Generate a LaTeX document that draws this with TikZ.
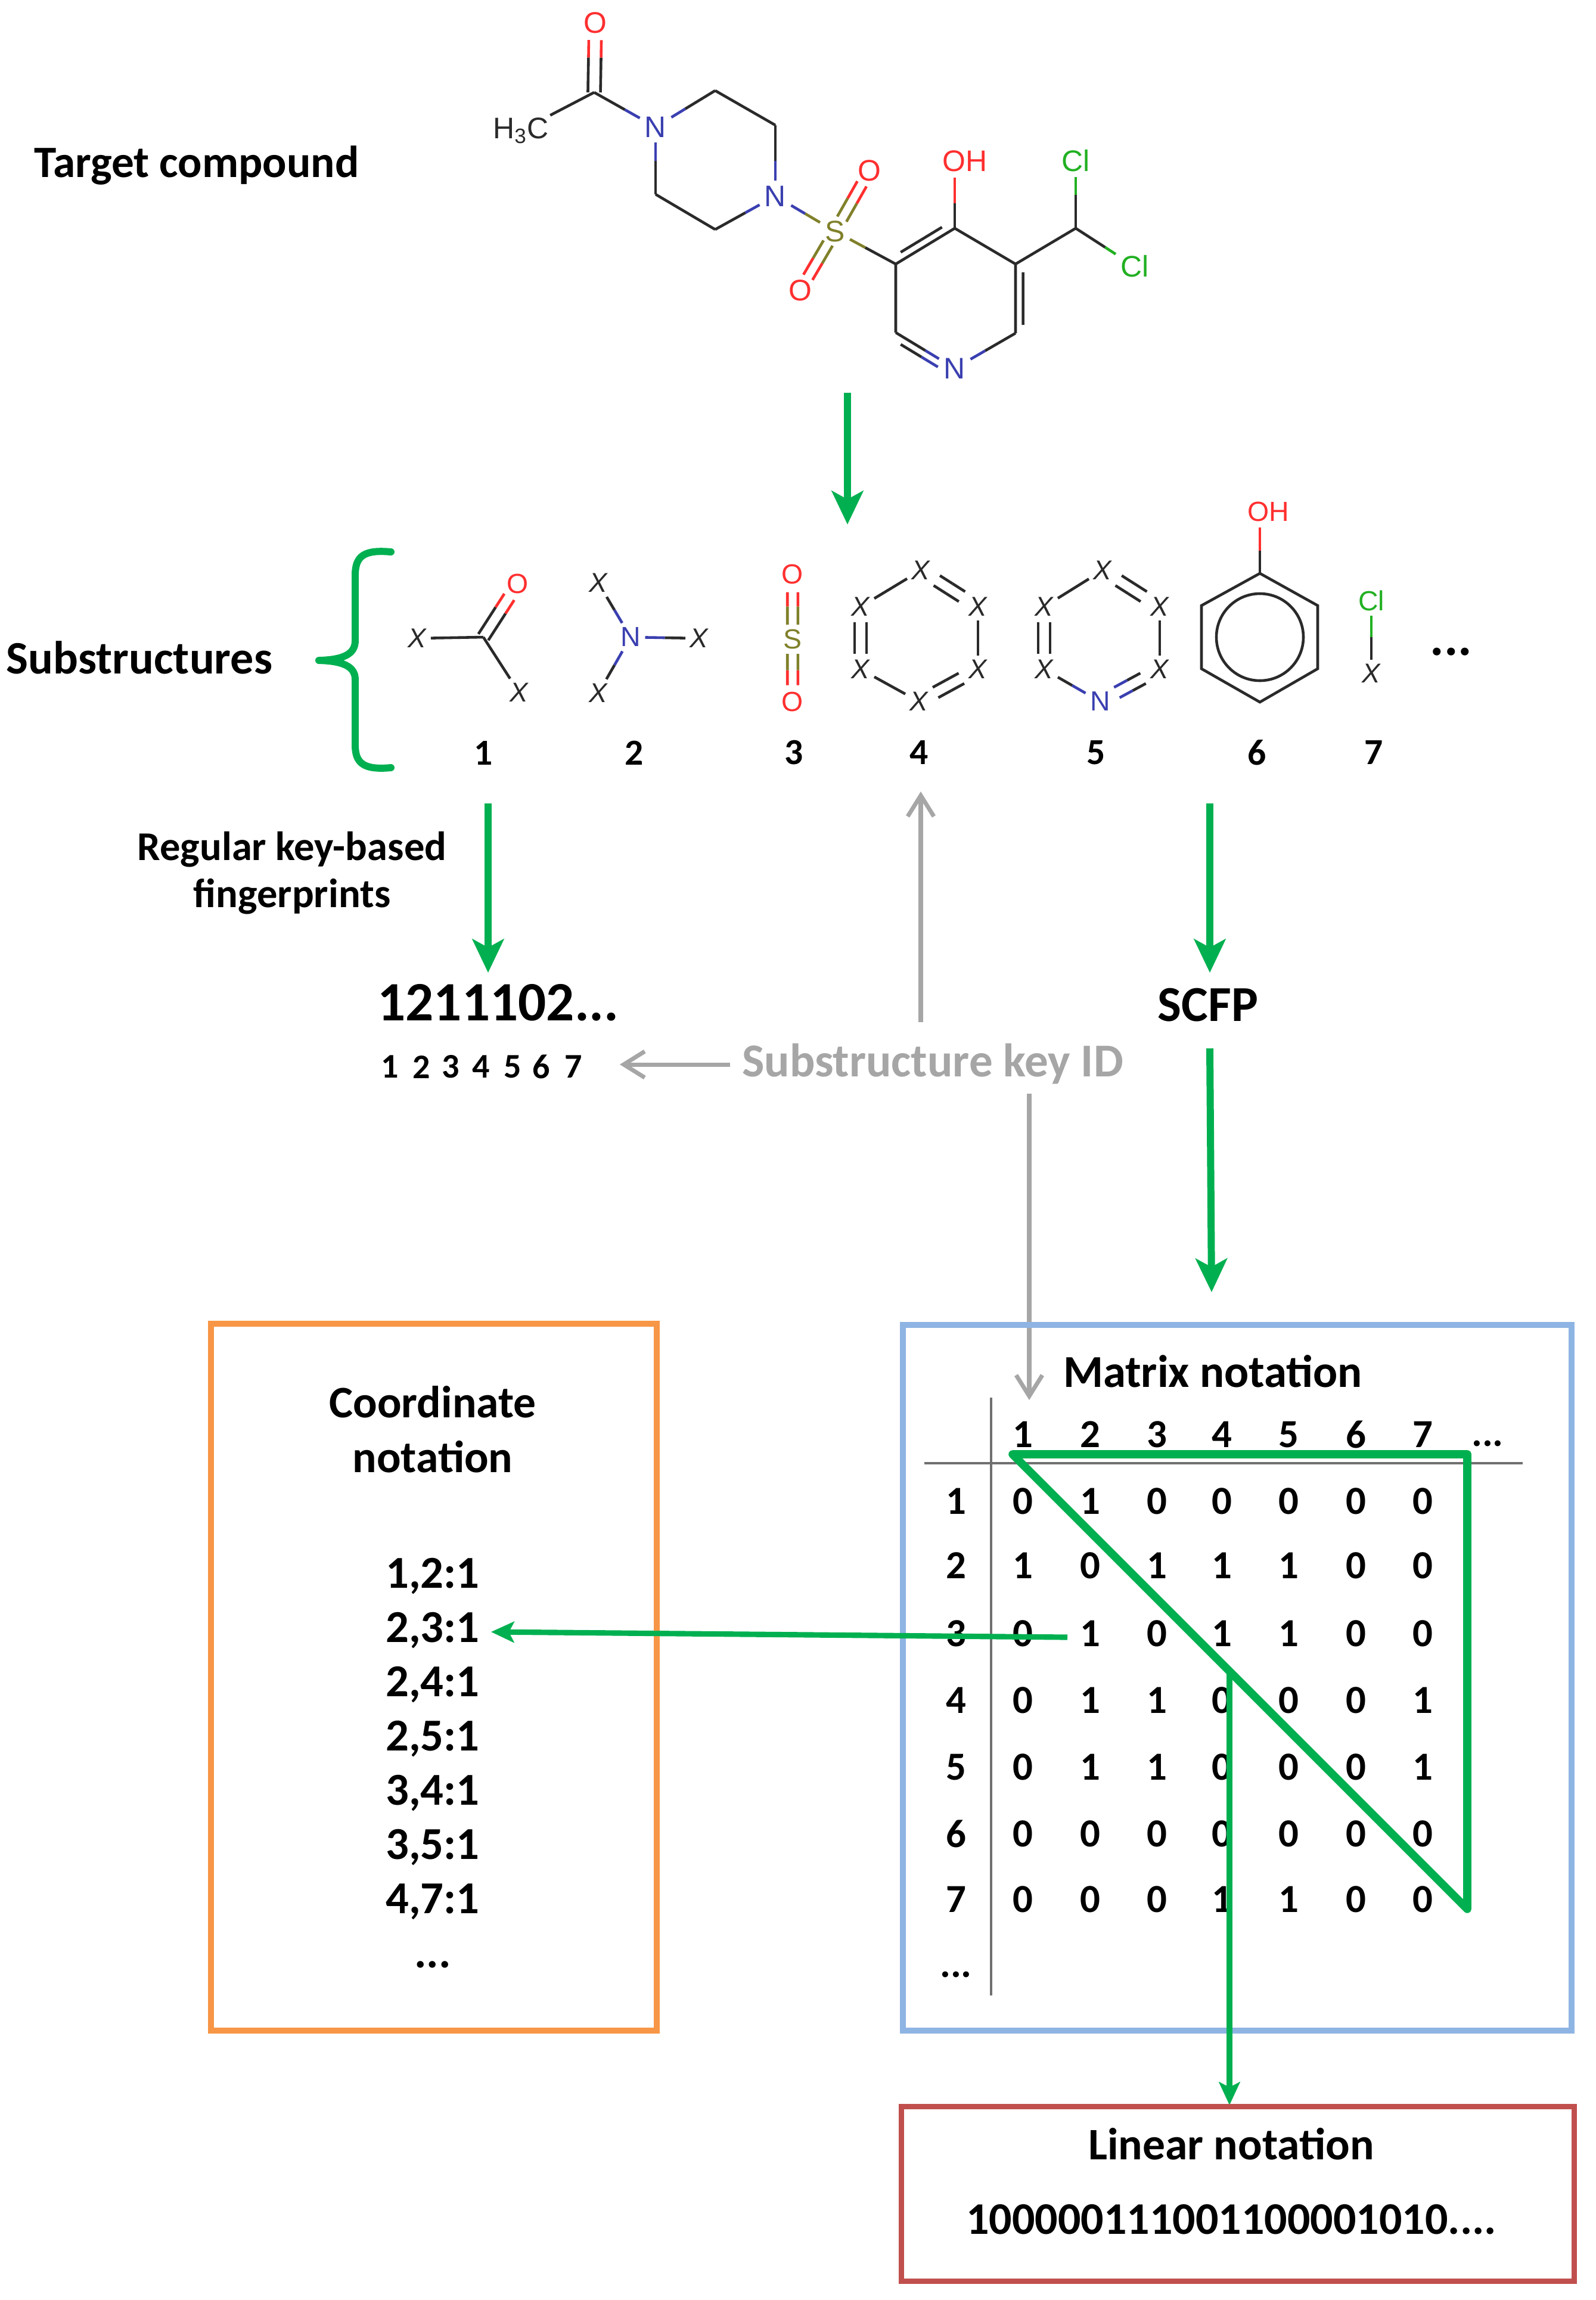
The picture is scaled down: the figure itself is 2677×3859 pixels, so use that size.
\documentclass[tikz,border=0pt]{standalone}
\usepackage{fontspec}
\setmainfont{Carlito}
\newfontfamily\chemfont{Liberation Sans}
\usetikzlibrary{calc,arrows.meta}
\definecolor{cgreen}{HTML}{00B050}
\definecolor{cgrey}{HTML}{A6A6A6}
\definecolor{corange}{HTML}{F79646}
\definecolor{cblue}{HTML}{8EB4E3}
\definecolor{cred}{HTML}{C0504D}
\definecolor{ink}{HTML}{2A2A2A}
\definecolor{atomO}{HTML}{FF2F2F}
\definecolor{atomN}{HTML}{3A3FB0}
\definecolor{atomS}{HTML}{80802A}
\definecolor{atomCl}{HTML}{22B022}
\definecolor{rule}{HTML}{707070}
\newcommand\fsz[2]{\fontsize{#1}{#2}\selectfont}
\newcommand\bondsplit[4]{%
  \draw[bondline,draw=#3] (#1) -- ($(#1)!.5!(#2)$);
  \draw[bondline,draw=#4] (#2) -- ($(#1)!.5!(#2)$);}
\newcommand\bondrun[7]{% a b colA colB f1 f2 offset
  \draw[bondline,draw=#3] ($($(#1)!#5!(#2)$)!#7!90:(#2)$) -- ($($(#1)!.5!(#2)$)!#7!90:(#2)$);
  \draw[bondline,draw=#4] ($($(#1)!.5!(#2)$)!#7!90:(#2)$) -- ($($(#1)!#6!(#2)$)!#7!90:(#2)$);}
\newcommand\mrow[9]{%
  \node[mcell] (r#1) at (1604,#2) {#1};
  \node[mcell] (c#1a) at (1716,#2) {#3};
  \node[mcell] (c#1b) at (1829,#2) {#4};
  \node[mcell] (c#1c) at (1941,#2) {#5};
  \node[mcell] (c#1d) at (2050,#2) {#6};
  \node[mcell] (c#1e) at (2162,#2) {#7};
  \node[mcell] (c#1f) at (2275,#2) {#8};
  \node[mcell] (c#1g) at (2387,#2) {#9};}
\tikzset{
  bondline/.style={line width=1.3pt,line cap=butt},
  atom/.style={font=\chemfont\fsz{14.2}{14.2},inner sep=2.2pt},
  satom/.style={font=\chemfont\fsz{13.2}{13.2},inner sep=2pt},
  xatom/.style={font=\chemfont\itshape\fsz{13}{13},text=ink,inner sep=2pt},
  label/.style={font=\bfseries\fsz{21.5}{22.5},align=center,inner sep=0pt},
  subnum/.style={font=\bfseries\fsz{17.5}{17.5},inner sep=0pt},
  smallnum/.style={font=\bfseries\fsz{16.5}{16.5},inner sep=0pt},
  mcell/.style={font=\bfseries\fsz{19}{19},inner sep=0pt},
  greenarrow/.style={draw=cgreen,line width=3.4pt,-{Stealth[length=16pt,width=15pt,inset=4pt]}},
  thinarrow/.style={draw=cgreen,line width=2.6pt,-{Stealth[length=11pt,width=10pt,inset=2.5pt]}},
  greyarrow/.style={draw=cgrey,line width=2pt,-{Straight Barb[length=10pt,width=12.5pt,line width=2pt]}},
  tablerule/.style={draw=rule,line width=1.3pt},
  panel/.style={draw=#1,line width=2.6pt,fill=none,inner sep=0pt},
}
\begin{document}
\begin{tikzpicture}[x=0.01cm,y=-0.01cm]
\useasboundingbox[fill=white] (0,0) rectangle (2677,3859);

% Target compound
\node[label,font=\bfseries\fsz{21.4}{22.5}] (ttarget) at (330,277) {Target compound};
\node[atom,text=atomO] (Oa) at (999,38) {O};
\coordinate (Ca) at (997,155);
\node[atom,text=ink,inner sep=1pt] (Me) at (874,219) {H\textsubscript{3}C};
\node[atom,text=atomN] (N1) at (1100,213) {N};
\coordinate (R1) at (1200,152);
\coordinate (R2) at (1301,210);
\node[atom,text=atomN] (N2) at (1301,329) {N};
\coordinate (R3) at (1200,385);
\coordinate (R4) at (1100,326);
\node[atom,text=atomS] (Sa) at (1401,388) {S};
\node[atom,text=atomO] (Ob) at (1459,286) {O};
\node[atom,text=atomO] (Oc) at (1343,487) {O};
\coordinate (P3) at (1503,443);
\coordinate (P4) at (1602,383);
\coordinate (P5) at (1704,443);
\coordinate (P6) at (1704,559);
\node[atom,text=atomN] (Np) at (1602,618) {N};
\coordinate (P2) at (1503,558);
\node[atom,text=atomO] (OH) at (1619,270) {OH};
\coordinate (OHb) at (1602,298);
\coordinate (CC) at (1805,383);
\node[atom,text=atomCl] (Cl1) at (1805,270) {Cl};
\node[atom,text=atomCl] (Cl2) at (1904,447) {Cl};
\bondrun{Ca}{Oa}{ink}{atomO}{0}{.75}{3pt}
\bondrun{Ca}{Oa}{ink}{atomO}{0}{.75}{-3pt}
\draw[bondline,draw=ink] (Ca) -- (Me);
\bondsplit{Ca}{N1}{ink}{atomN}
\bondsplit{N1}{R1}{atomN}{ink}
\draw[bondline,draw=ink] (R1) -- (R2);
\bondsplit{R2}{N2}{ink}{atomN}
\bondsplit{N2}{R3}{atomN}{ink}
\draw[bondline,draw=ink] (R3) -- (R4);
\bondsplit{R4}{N1}{ink}{atomN}
\bondsplit{N2}{Sa}{atomN}{atomS}
\bondsplit{Sa}{P3}{atomS}{ink}
\bondrun{Sa}{Ob}{atomS}{atomO}{.2}{.78}{2.5pt}
\bondrun{Sa}{Ob}{atomS}{atomO}{.2}{.78}{-2.5pt}
\bondrun{Sa}{Oc}{atomS}{atomO}{.2}{.78}{2.5pt}
\bondrun{Sa}{Oc}{atomS}{atomO}{.2}{.78}{-2.5pt}
\draw[bondline,draw=ink,line join=round] (P2) -- (P3) -- (P4) -- (P5) -- (P6);
\bondsplit{P6}{Np}{ink}{atomN}
\bondsplit{Np}{P2}{atomN}{ink}
\bondrun{P3}{P4}{ink}{ink}{.15}{.85}{3.6pt}
\bondrun{P5}{P6}{ink}{ink}{.12}{.88}{3.6pt}
\bondrun{Np}{P2}{atomN}{ink}{.22}{.85}{3.6pt}
\bondsplit{P4}{OHb}{ink}{atomO}
\draw[bondline,draw=ink] (P5) -- (CC);
\bondsplit{CC}{Cl1}{ink}{atomCl}
\bondsplit{CC}{Cl2}{ink}{atomCl}

% Arrow to substructures
\coordinate (aStart) at (1422,659);
\coordinate (aEnd) at (1422,880);
\draw[greenarrow] (aStart) -- (aEnd);

% Substructures label + brace
\node[label,font=\bfseries\fsz{22.2}{22.5}] (tsub) at (234,1103) {Substructures};
\draw[draw=cgreen,line width=3.4pt,line cap=round,line join=round]
  (656,926) .. controls (612,922) and (596,932) .. (596,965) -- (596,1075)
  .. controls (596,1098) and (575,1107) .. (535,1108)
  .. controls (575,1109) and (596,1118) .. (596,1140) -- (596,1250)
  .. controls (596,1282) and (612,1292) .. (656,1288);

% Sub 1
\node[xatom] (s1x1) at (700,1071) {X};
\coordinate (s1c) at (811,1069);
\node[satom,text=atomO] (s1o) at (869,979) {O};
\node[xatom] (s1x2) at (871,1162) {X};
\draw[bondline,draw=ink] (s1x1) -- (s1c);
\draw[bondline,draw=ink] (s1c) -- (s1x2);
\bondrun{s1c}{s1o}{ink}{atomO}{0}{.75}{2.8pt}
\bondrun{s1c}{s1o}{ink}{atomO}{0}{.75}{-2.8pt}
% Sub 2
\node[xatom] (s2x1) at (1004,978) {X};
\node[satom,text=atomN] (s2n) at (1058,1069) {N};
\node[xatom] (s2x2) at (1173,1071) {X};
\node[xatom] (s2x3) at (1004,1163) {X};
\bondsplit{s2x1}{s2n}{ink}{atomN}
\bondsplit{s2n}{s2x2}{atomN}{ink}
\bondsplit{s2n}{s2x3}{atomN}{ink}
% Sub 3
\node[satom,text=atomO] (s3o1) at (1330,963) {O};
\node[satom,text=atomS] (s3s) at (1330,1072) {S};
\node[satom,text=atomO] (s3o2) at (1330,1177) {O};
\bondrun{s3o1}{s3s}{atomO}{atomS}{.28}{.78}{2.5pt}
\bondrun{s3o1}{s3s}{atomO}{atomS}{.28}{.78}{-2.5pt}
\bondrun{s3s}{s3o2}{atomS}{atomO}{.24}{.74}{2.5pt}
\bondrun{s3s}{s3o2}{atomS}{atomO}{.24}{.74}{-2.5pt}
% Sub 4
\node[xatom] (s4a) at (1545,957) {X};
\node[xatom] (s4b) at (1641,1018) {X};
\node[xatom] (s4c) at (1641,1123) {X};
\node[xatom] (s4d) at (1542,1177) {X};
\node[xatom] (s4e) at (1444,1123) {X};
\node[xatom] (s4f) at (1444,1018) {X};
\draw[bondline,draw=ink] (s4a) -- (s4f);
\draw[bondline,draw=ink] (s4b) -- (s4c);
\draw[bondline,draw=ink] (s4d) -- (s4e);
\bondrun{s4a}{s4b}{ink}{ink}{.28}{.72}{2.8pt}
\bondrun{s4a}{s4b}{ink}{ink}{.28}{.72}{-2.8pt}
\bondrun{s4c}{s4d}{ink}{ink}{.28}{.72}{2.8pt}
\bondrun{s4c}{s4d}{ink}{ink}{.28}{.72}{-2.8pt}
\bondrun{s4e}{s4f}{ink}{ink}{.25}{.75}{2.8pt}
\bondrun{s4e}{s4f}{ink}{ink}{.25}{.75}{-2.8pt}
% Sub 5
\node[xatom] (s5a) at (1850,957) {X};
\node[xatom] (s5b) at (1946,1018) {X};
\node[xatom] (s5c) at (1946,1123) {X};
\node[satom,text=atomN] (s5d) at (1846,1177) {N};
\node[xatom] (s5e) at (1752,1123) {X};
\node[xatom] (s5f) at (1752,1018) {X};
\draw[bondline,draw=ink] (s5a) -- (s5f);
\draw[bondline,draw=ink] (s5b) -- (s5c);
\bondsplit{s5d}{s5e}{atomN}{ink}
\bondrun{s5a}{s5b}{ink}{ink}{.28}{.72}{2.8pt}
\bondrun{s5a}{s5b}{ink}{ink}{.28}{.72}{-2.8pt}
\bondrun{s5c}{s5d}{ink}{atomN}{.28}{.72}{2.8pt}
\bondrun{s5c}{s5d}{ink}{atomN}{.28}{.72}{-2.8pt}
\bondrun{s5e}{s5f}{ink}{ink}{.25}{.75}{2.8pt}
\bondrun{s5e}{s5f}{ink}{ink}{.25}{.75}{-2.8pt}
% Sub 6
\coordinate (s6a) at (2114,962);
\coordinate (s6b) at (2211,1016);
\coordinate (s6c) at (2211,1122);
\coordinate (s6d) at (2114,1178);
\coordinate (s6e) at (2016,1122);
\coordinate (s6f) at (2016,1016);
\coordinate (s6h) at (2114,885);
\node[satom,text=atomO] (s6oh) at (2128,858) {OH};
\draw[bondline,draw=ink,line join=miter] (s6a) -- (s6b) -- (s6c) -- (s6d) -- (s6e) -- (s6f) -- cycle;
\draw[bondline,draw=ink] (2114,1069) circle [radius=73];
\bondsplit{s6a}{s6h}{ink}{atomO}
% Sub 7
\node[satom,text=atomCl] (s7cl) at (2301,1008) {Cl};
\node[xatom] (s7x) at (2301,1130) {X};
\bondsplit{s7cl}{s7x}{atomCl}{ink}
\node[label,font=\bfseries\fsz{25}{25}] (sdots) at (2435,1094) {...};
% numbers
\node[subnum] (n1) at (811,1263) {1};
\node[subnum] (n2) at (1064,1263) {2};
\node[subnum] (n3) at (1332,1263) {3};
\node[subnum] (n4) at (1542,1263) {4};
\node[subnum] (n5) at (1839,1263) {5};
\node[subnum] (n6) at (2109,1263) {6};
\node[subnum] (n7) at (2305,1263) {7};

% Fingerprint region
\node[label,font=\bfseries\fsz{19.5}{22.5}] (treg) at (490,1465) {Regular key-based\\fingerprints};
\node[font=\bfseries\fsz{26.5}{26.5},inner sep=0pt] (fp) at (836,1682) {1211102...};
\node[smallnum] (k1) at (654,1790) {1};
\node[smallnum] (k2) at (707,1790) {2};
\node[smallnum] (k3) at (756,1790) {3};
\node[smallnum] (k4) at (807,1790) {4};
\node[smallnum] (k5) at (860,1790) {5};
\node[smallnum] (k6) at (908,1790) {6};
\node[smallnum] (k7) at (962,1790) {7};
\node[label,text=cgrey,font=\bfseries\fsz{22.5}{22.5}] (keyid) at (1565,1785) {Substructure key ID};
\node[label,font=\bfseries\fsz{24}{24}] (scfp) at (2027,1686) {SCFP};

\coordinate (b1s) at (819,1348);
\coordinate (b1e) at (819,1632);
\draw[greenarrow] (b1s) -- (b1e);
\coordinate (b2s) at (2030,1348);
\coordinate (b2e) at (2030,1632);
\draw[greenarrow] (b2s) -- (b2e);
\coordinate (b3s) at (2030,1759);
\coordinate (b3e) at (2033,2168);
\draw[greenarrow] (b3s) -- (b3e);
\coordinate (g1s) at (1545,1715);
\coordinate (g1e) at (1545,1328);
\draw[greyarrow] (g1s) -- (g1e);
\coordinate (g2s) at (1225,1786);
\coordinate (g2e) at (1040,1786);
\draw[greyarrow] (g2s) -- (g2e);
\coordinate (g3s) at (1727,1835);
\coordinate (g3e) at (1727,2349);
\draw[greyarrow] (g3s) -- (g3e);

% Coordinate notation
\node[panel=corange,minimum width=748*0.01cm,minimum height=1186*0.01cm] (orangebox) at (728,2814) {};
\node[label,font=\bfseries\fsz{21.5}{26}] (tcoord) at (726,2398) {Coordinate\\notation};
\node[label,font=\bfseries\fsz{21.8}{25.9}] (tlist) at (726,2958) {1,2:1\\2,3:1\\2,4:1\\2,5:1\\3,4:1\\3,5:1\\4,7:1\\...};

% Matrix notation
\node[panel=cblue,minimum width=1122*0.01cm,minimum height=1184*0.01cm] (bluebox) at (2076,2815) {};
\node[label,font=\bfseries\fsz{21.8}{22}] (tmatrix) at (2035,2301) {Matrix notation};
\node[mcell] (h1) at (1716,2407) {1};
\node[mcell] (h2) at (1829,2407) {2};
\node[mcell] (h3) at (1941,2407) {3};
\node[mcell] (h4) at (2050,2407) {4};
\node[mcell] (h5) at (2162,2407) {5};
\node[mcell] (h6) at (2275,2407) {6};
\node[mcell] (h7) at (2387,2407) {7};
\node[mcell] (hd) at (2496,2422) {...};
\mrow{1}{2519}{0}{1}{0}{0}{0}{0}{0}
\mrow{2}{2627}{1}{0}{1}{1}{1}{0}{0}
\mrow{3}{2741}{0}{1}{0}{1}{1}{0}{0}
\mrow{4}{2853}{0}{1}{1}{0}{0}{0}{1}
\mrow{5}{2965}{0}{1}{1}{0}{0}{0}{1}
\mrow{6}{3077}{0}{0}{0}{0}{0}{0}{0}
\mrow{7}{3187}{0}{0}{0}{1}{1}{0}{0}
\node[mcell] (rd) at (1604,3313) {...};
\coordinate (vt) at (1663,2345);
\coordinate (vb) at (1663,3348);
\coordinate (hl) at (1551,2455);
\coordinate (hr) at (2555,2455);
\draw[tablerule] (vt) -- (vb);
\draw[tablerule] (hl) -- (hr);

% Triangle and its outgoing arrows
\coordinate (t1) at (1699,2440);
\coordinate (t2) at (2462,2440);
\coordinate (t3) at (2462,3203);
\draw[draw=cgreen,line width=3.9pt,line join=round] (t1) -- (t2) -- (t3) -- cycle;
\coordinate (l1s) at (1791,2747);
\coordinate (l1e) at (824,2738);
\draw[thinarrow] (l1s) -- (l1e);
\coordinate (d1s) at (2063,2809);
\coordinate (d1e) at (2063,3532);
\draw[thinarrow] (d1s) -- (d1e);

% Linear notation
\node[panel=cred,minimum width=1129*0.01cm,minimum height=293*0.01cm] (redbox) at (2077,3681) {};
\node[label,font=\bfseries\fsz{21.5}{22}] (tlinear) at (2066,3597) {Linear notation};
\node[label,font=\bfseries\fsz{21.6}{22}] (tbits) at (2066,3724) {100000111001100001010....};
\end{tikzpicture}
\end{document}
